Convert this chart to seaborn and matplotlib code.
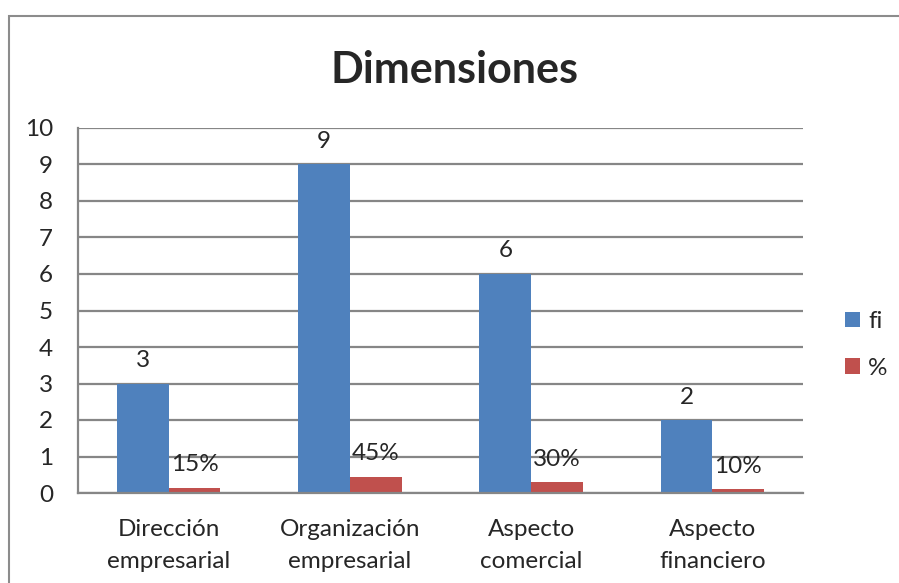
import matplotlib
matplotlib.use("Agg")
import matplotlib.pyplot as plt
import seaborn as sns
import pandas as pd
from matplotlib.patches import Rectangle

categories = ["Dirección\nempresarial", "Organización\nempresarial", "Aspecto\ncomercial", "Aspecto\nfinanciero"]
fi_values = [3, 9, 6, 2]
pct_values = [0.15, 0.45, 0.30, 0.10]
pct_labels = ["15%", "45%", "30%", "10%"]
series_names = ["fi", "%"]
yticks = list(range(0, 11))

sns.set_theme(style="white")
plt.rcParams['font.family'] = ['Lato', 'DejaVu Sans']

df = pd.DataFrame({
    "cat": categories * 2,
    "val": fi_values + pct_values,
    "serie": [series_names[0]] * 4 + [series_names[1]] * 4,
})

FS = 17.5
fig = plt.figure(figsize=(8.99, 5.83), dpi=100)
ax = fig.add_axes([78/899, 90/583, (803-78)/899, (493-128)/583])

sns.barplot(data=df, x="cat", y="val", hue="serie", palette=["#4F81BD", "#C0504D"],
            width=0.57, saturation=1, ax=ax, legend=True, errorbar=None, linewidth=0)

ax.set_ylim(0, 10)
ax.set_xlim(-0.5, 3.5)
ax.set_yticks(yticks)
ax.set_yticklabels([str(t) for t in yticks], fontsize=FS)
ax.tick_params(axis='y', length=0, pad=18)
ax.tick_params(axis='x', length=0, pad=19, labelsize=FS)
for lbl in ax.get_xticklabels():
    lbl.set_linespacing(1.6)
ax.set_xlabel("")
ax.set_ylabel("")
ax.yaxis.grid(True, color="#868686", linewidth=1.6)
ax.set_axisbelow(True)
for s in ["top", "right"]:
    ax.spines[s].set_visible(False)
for s in ["left", "bottom"]:
    ax.spines[s].set_color("#868686")
    ax.spines[s].set_linewidth(1.6)

containers = ax.containers
ax.bar_label(containers[0], labels=[str(v) for v in fi_values], padding=9, fontsize=FS)
ax.bar_label(containers[1], labels=pct_labels, padding=9, fontsize=FS)

leg = ax.legend(loc="center left", bbox_to_anchor=(845/899, 1 - 345/583),
                bbox_transform=fig.transFigure, frameon=False,
                fontsize=FS, handlelength=0.6, handleheight=0.6, handletextpad=0.35,
                labelspacing=1.05, borderpad=0, borderaxespad=0)

fig.text(455/899, 1 - 70/583, "Dimensiones", ha="center", va="center",
         fontsize=31, fontweight="bold")

fig.patches.append(Rectangle((9/899, -0.1), 1.2, (583-16)/583 + 0.1, transform=fig.transFigure,
                             fill=False, edgecolor="#8c8c8c", linewidth=1.5))

fig.savefig("out.png", dpi=100)
